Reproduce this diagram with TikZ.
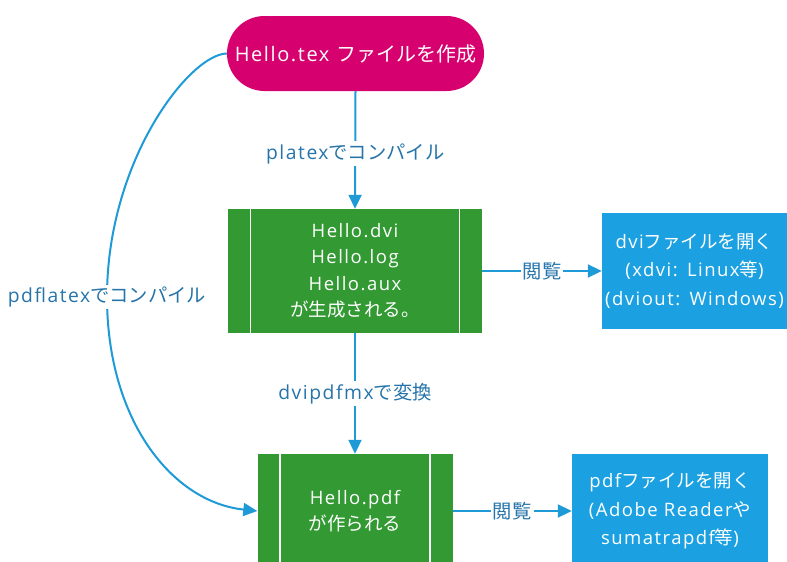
\documentclass[tikz,border=0pt]{standalone}
\usepackage{fontspec}
\setmainfont{Open Sans}[LetterSpace=8]
\newfontfamily\jp{Noto Sans CJK JP}
\newcommand\J[1]{{\jp #1}}
\usetikzlibrary{arrows.meta}
\definecolor{magentac}{HTML}{D6006F}
\definecolor{greenc}{HTML}{339933}
\definecolor{bluec}{HTML}{1BA1E2}
\definecolor{linec}{HTML}{1E9BD7}
\definecolor{labelc}{HTML}{2674AA}
\tikzset{
  startbox/.style={fill=magentac, text=white, rounded corners=37.5pt, inner sep=0pt,
    font=\fontsize{20}{24}\selectfont},
  procbox/.style={fill=greenc, text=white, inner sep=0pt, align=center,
    font=\fontsize{18.5}{26.5}\selectfont},
  viewbox/.style={fill=bluec, text=white, inner sep=0pt, align=center,
    font=\fontsize{18.5}{28.5}\selectfont},
  conn/.style={draw=linec, line width=2pt, -{Triangle[length=14pt,width=13pt]}},
  lbl/.style={text=labelc, fill=white, inner sep=2pt, font=\fontsize{19.3}{23}\selectfont},
  sideline/.style={draw=white, line width=1.5pt},
}
\begin{document}
\begin{tikzpicture}[x=1pt,y=-1pt]
\useasboundingbox (0,0) rectangle (787,562);
\node[startbox, minimum width=257pt, minimum height=75pt] (start) at (355.5,53.5) {Hello.tex \J{ファイルを作成}};
\node[procbox, minimum width=254pt, minimum height=124pt] (dvi) at (355,271) {Hello.dvi\\Hello.log\\Hello.aux\\\J{が生成される。}};
\node[viewbox, text width=185pt, minimum height=116pt] (dviview) at (694.5,271) {dvi\J{ファイルを開く}\\(xdvi: Linux\J{等})\\(dviout: Windows)};
\node[procbox, minimum width=195pt, minimum height=114pt] (pdf) at (355,511) {Hello.pdf\\\J{が作られる}};
\node[viewbox, text width=196pt, minimum height=114pt] (pdfview) at (670,511) {pdf\J{ファイルを開く}\\(Adobe Reader\J{や}\\sumatrapdf\J{等})};
% inner side lines
\draw[sideline] ([xshift=22.5pt]dvi.north west) -- ([xshift=22.5pt]dvi.south west);
\draw[sideline] ([xshift=-22.5pt]dvi.north east) -- ([xshift=-22.5pt]dvi.south east);
\draw[sideline] ([xshift=22.5pt]pdf.north west) -- ([xshift=22.5pt]pdf.south west);
\draw[sideline] ([xshift=-22.5pt]pdf.north east) -- ([xshift=-22.5pt]pdf.south east);
% connectors
\draw[conn] (start.south) -- node[lbl, pos=0.53] {platex\J{でコンパイル}} (dvi.north);
\draw[conn] (dvi.east) -- node[lbl] {\J{閲覧}} (dviview.west);
\draw[conn] (dvi.south) -- node[lbl] {dvipdfmx\J{で変換}} (pdf.north);
\draw[conn] (pdf.east) -- node[lbl] {\J{閲覧}} (pdfview.west);
\coordinate (mid) at (107,297);
\draw[conn] (start.west) .. controls (190,54) and (107,160) .. (mid) .. controls (107,420) and (172,502) .. (pdf.west);
\node[lbl] (pdflbl) at (mid) {pdflatex\J{でコンパイル}};
\end{tikzpicture}
\end{document}
